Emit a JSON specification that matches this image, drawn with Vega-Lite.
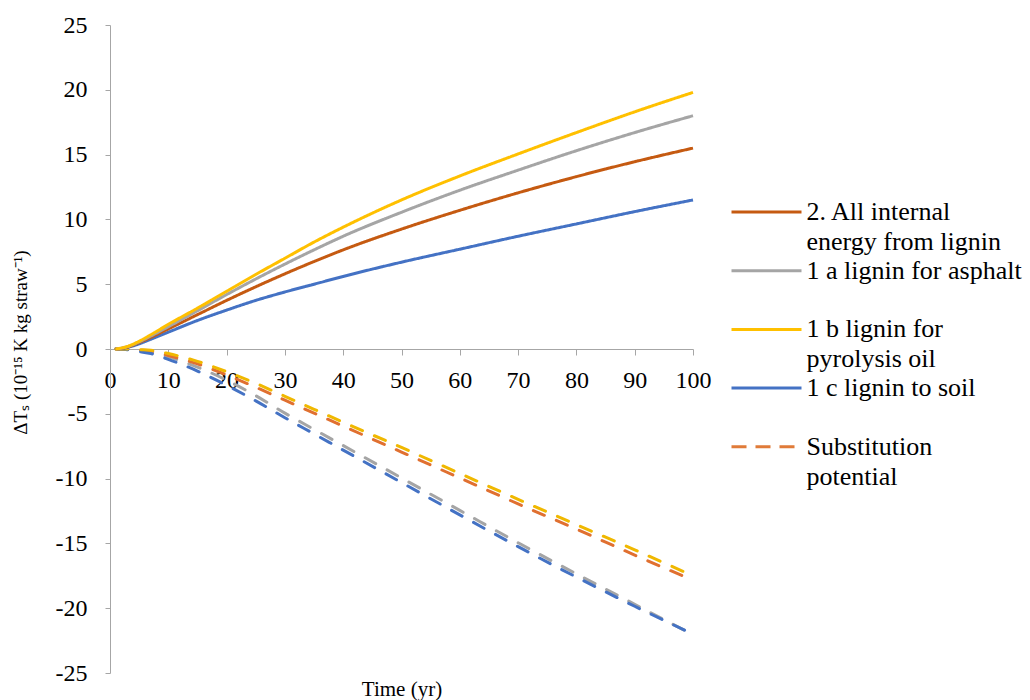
{
  "$schema": "https://vega.github.io/schema/vega-lite/v6.json",
  "width": 583,
  "height": 648,
  "autosize": {"type": "none"},
  "padding": {"left": 110, "top": 25, "right": 337, "bottom": 27},
  "background": "white",
  "config": {
    "view": {"stroke": null},
    "font": "Liberation Serif",
    "axis": {"labelFont": "Liberation Serif", "titleFont": "Liberation Serif"},
    "legend": {"labelFont": "Liberation Serif"},
    "style": {"guide-label": {"font": "Liberation Serif", "fill": "black", "lineHeight": 30}, "guide-title": {"font": "Liberation Serif"}}
  },
  "datasets": {
    "solid": [
      {"t": 1, "e2": 0, "a1": 0, "b1": 0, "c1": 0},
      {"t": 3, "e2": 0.15, "a1": 0.18, "b1": 0.2, "c1": 0.12},
      {"t": 5, "e2": 0.5, "a1": 0.55, "b1": 0.6, "c1": 0.4},
      {"t": 7, "e2": 0.9, "a1": 1.0, "b1": 1.1, "c1": 0.75},
      {"t": 10, "e2": 1.55, "a1": 1.72, "b1": 1.9, "c1": 1.3},
      {"t": 15, "e2": 2.65, "a1": 2.95, "b1": 3.15, "c1": 2.2},
      {"t": 20, "e2": 3.75, "a1": 4.2, "b1": 4.45, "c1": 3.0},
      {"t": 25, "e2": 4.8, "a1": 5.4, "b1": 5.75, "c1": 3.75},
      {"t": 30, "e2": 5.8, "a1": 6.55, "b1": 7.0, "c1": 4.4},
      {"t": 35, "e2": 6.75, "a1": 7.65, "b1": 8.25, "c1": 5.0},
      {"t": 40, "e2": 7.65, "a1": 8.7, "b1": 9.4, "c1": 5.6},
      {"t": 50, "e2": 9.25, "a1": 10.55, "b1": 11.5, "c1": 6.7},
      {"t": 60, "e2": 10.7, "a1": 12.25, "b1": 13.35, "c1": 7.7},
      {"t": 70, "e2": 12.05, "a1": 13.8, "b1": 15.05, "c1": 8.7},
      {"t": 80, "e2": 13.3, "a1": 15.3, "b1": 16.7, "c1": 9.65},
      {"t": 90, "e2": 14.45, "a1": 16.7, "b1": 18.3, "c1": 10.6},
      {"t": 100, "e2": 15.5, "a1": 18.0, "b1": 19.8, "c1": 11.5}
    ],
    "dashed": [
      {"t": 1, "e2": 0, "a1": 0, "b1": 0, "c1": 0},
      {"t": 3, "e2": -0.02, "a1": -0.03, "b1": 0.0, "c1": -0.05},
      {"t": 5, "e2": -0.08, "a1": -0.12, "b1": -0.05, "c1": -0.2},
      {"t": 7, "e2": -0.15, "a1": -0.25, "b1": -0.1, "c1": -0.35},
      {"t": 10, "e2": -0.5, "a1": -0.6, "b1": -0.35, "c1": -0.8},
      {"t": 15, "e2": -1.15, "a1": -1.4, "b1": -0.95, "c1": -1.7},
      {"t": 20, "e2": -2.0, "a1": -2.4, "b1": -1.75, "c1": -2.8},
      {"t": 25, "e2": -2.95, "a1": -3.6, "b1": -2.65, "c1": -4.0},
      {"t": 30, "e2": -3.95, "a1": -4.95, "b1": -3.65, "c1": -5.3},
      {"t": 35, "e2": -4.95, "a1": -6.2, "b1": -4.65, "c1": -6.55},
      {"t": 40, "e2": -5.95, "a1": -7.45, "b1": -5.65, "c1": -7.8},
      {"t": 50, "e2": -7.95, "a1": -9.95, "b1": -7.6, "c1": -10.3},
      {"t": 60, "e2": -9.95, "a1": -12.45, "b1": -9.6, "c1": -12.8},
      {"t": 70, "e2": -11.95, "a1": -14.95, "b1": -11.6, "c1": -15.25},
      {"t": 80, "e2": -13.9, "a1": -17.35, "b1": -13.55, "c1": -17.6},
      {"t": 90, "e2": -15.9, "a1": -19.7, "b1": -15.5, "c1": -19.85},
      {"t": 100, "e2": -17.85, "a1": -22.05, "b1": -17.5, "c1": -22.0}
    ]
  },
  "layer": [
    {
      "data": {"name": "dashed"},
      "transform": [{"fold": ["a1", "e2", "c1", "b1"], "as": ["s", "v"]}],
      "mark": {"type": "line", "strokeWidth": 3, "strokeDash": [12, 13], "strokeCap": "round", "interpolate": "monotone"},
      "encoding": {
        "x": {
          "field": "t", "type": "quantitative",
          "scale": {"domain": [0, 100], "nice": false},
          "axis": {
            "orient": "bottom", "offset": -324,
            "values": [0, 10, 20, 30, 40, 50, 60, 70, 80, 90, 100],
            "labelExpr": "toString(datum.value)", "labelFlush": false,
            "grid": false, "domainColor": "#A6A6A6", "tickColor": "#A6A6A6", "tickSize": 6,
            "labelFontSize": 24, "labelFont": "Liberation Serif", "labelColor": "black", "labelPadding": 13,
            "title": "Time (yr)", "titleFontSize": 21, "titleFont": "Liberation Serif", "titleFontWeight": "normal", "titleColor": "black",
            "titleY": 346, "titleBaseline": "alphabetic"
          }
        },
        "y": {
          "field": "v", "type": "quantitative",
          "scale": {"domain": [-25, 25], "nice": false},
          "axis": {
            "values": [-25, -20, -15, -10, -5, 0, 5, 10, 15, 20, 25],
            "labelExpr": "toString(datum.value)", "labelFlush": false,
            "grid": false, "domainColor": "#A6A6A6", "tickColor": "#A6A6A6", "tickSize": 5,
            "labelFontSize": 24, "labelFont": "Liberation Serif", "labelColor": "black", "labelPadding": 18,
            "title": "ΔTₛ (10⁻¹⁵ K kg straw⁻¹)", "titleFontSize": 19, "titleFont": "Liberation Serif", "titleFontWeight": "normal", "titleColor": "black",
            "titleX": -90, "titleY": 317, "titleAngle": -90, "titleBaseline": "middle", "titleAlign": "center"
          }
        },
        "stroke": {
          "field": "s", "type": "nominal",
          "scale": {"domain": ["e2", "a1", "b1", "c1"], "range": ["#E07030", "#A5A5A5", "#F0B800", "#4472C4"]},
          "legend": null
        },
        "detail": {"field": "s"}
      }
    },
    {
      "data": {"name": "solid"},
      "transform": [{"fold": ["c1", "e2", "a1", "b1"], "as": ["s", "v"]}],
      "mark": {"type": "line", "strokeWidth": 3, "interpolate": "monotone"},
      "encoding": {
        "x": {"field": "t", "type": "quantitative"},
        "y": {"field": "v", "type": "quantitative"},
        "color": {
          "field": "s", "type": "nominal",
          "scale": {"domain": ["e2", "a1", "b1", "c1", "sub"], "range": ["#C55A11", "#A5A5A5", "#FFC000", "#4472C4", "#E07B39"]},
          "legend": {
            "title": null, "orient": "none", "legendX": 620, "legendY": 173, "padding": 0,
            "symbolType": "M-2.8,0H2.8", "symbolSize": 625, "symbolStrokeWidth": 3, "symbolOffset": 22.5,
            "labelFontSize": 26, "labelFont": "Liberation Serif", "labelColor": "black", "labelOffset": 26, "labelLimit": 400,
            "rowPadding": 1.7,
            "labelExpr": "datum.value == 'e2' ? ['2. All internal', 'energy from lignin'] : datum.value == 'a1' ? ['1 a lignin for asphalt', ''] : datum.value == 'b1' ? ['1 b lignin for', 'pyrolysis oil'] : datum.value == 'c1' ? ['1 c lignin to soil', ''] : ['Substitution', 'potential']"
          }
        },
        "strokeDash": {
          "field": "s", "type": "nominal",
          "scale": {"domain": ["e2", "a1", "b1", "c1", "sub"], "range": [[1, 0], [1, 0], [1, 0], [1, 0], [15, 9]]},
          "legend": {
            "title": null, "orient": "none", "legendX": 620, "legendY": 173, "padding": 0,
            "symbolType": "M-2.8,0H2.8", "symbolSize": 625, "symbolStrokeWidth": 3, "symbolOffset": 22.5,
            "labelFontSize": 26, "labelFont": "Liberation Serif", "labelColor": "black", "labelOffset": 26, "labelLimit": 400,
            "rowPadding": 1.7,
            "labelExpr": "datum.value == 'e2' ? ['2. All internal', 'energy from lignin'] : datum.value == 'a1' ? ['1 a lignin for asphalt', ''] : datum.value == 'b1' ? ['1 b lignin for', 'pyrolysis oil'] : datum.value == 'c1' ? ['1 c lignin to soil', ''] : ['Substitution', 'potential']"
          }
        }
      }
    }
  ]
}
